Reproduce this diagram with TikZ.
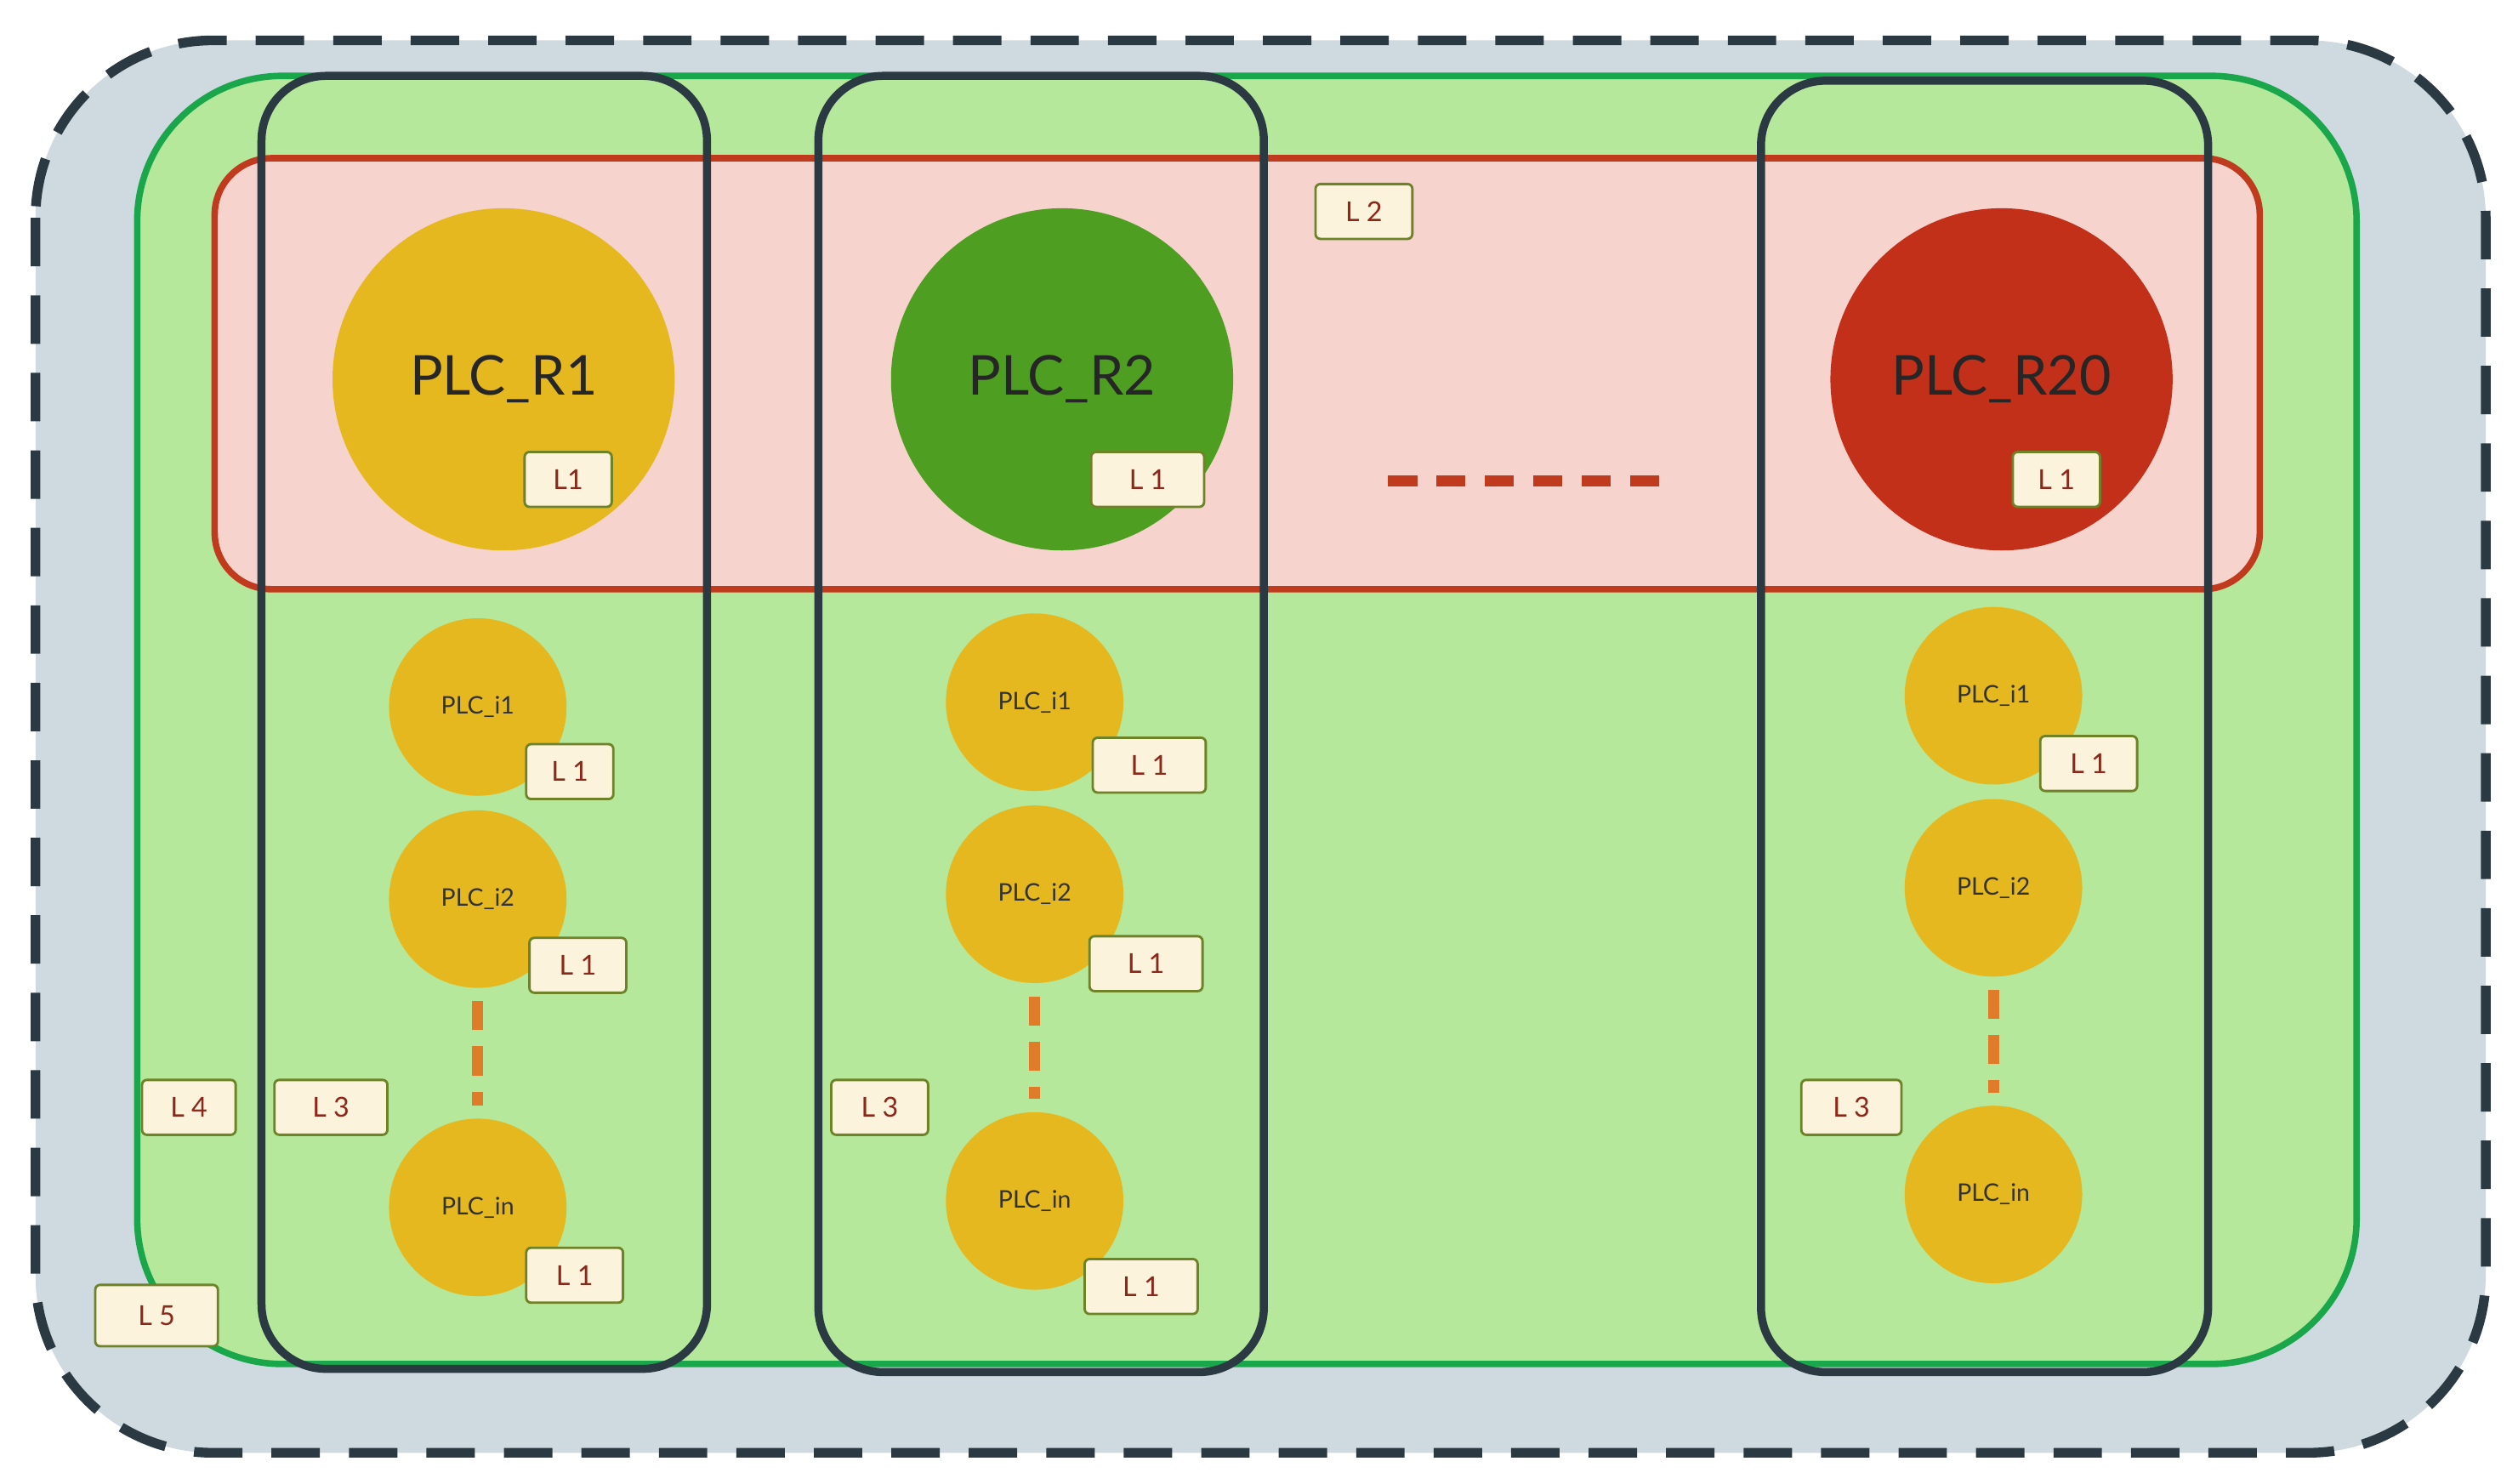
\documentclass[tikz,border=0pt]{standalone}
\usepackage{fontspec}
\setmainfont{Lato}
\definecolor{plcy}{HTML}{E6B820}
\definecolor{dark}{HTML}{2B3A42}
\definecolor{outerbg}{RGB}{207,217,224}
\definecolor{greenbg}{RGB}{181,232,154}
\definecolor{greenln}{RGB}{26,166,74}
\definecolor{redbg}{RGB}{247,211,206}
\definecolor{redln}{RGB}{192,58,30}
\definecolor{r2col}{RGB}{78,158,34}
\definecolor{r20col}{RGB}{195,48,26}
\definecolor{orng}{RGB}{224,123,42}
\definecolor{labfill}{RGB}{252,243,220}
\definecolor{labline}{RGB}{110,130,40}
\definecolor{labtext}{RGB}{140,40,25}
\begin{document}
\begin{tikzpicture}[x=1pt,y=-1pt,
  lab/.style={draw=labline,fill=labfill,line width=1.5pt,rounded corners=3pt,minimum width=54pt,minimum height=34pt,font=\fontsize{17}{17}\selectfont,text=labtext},
  big/.style={circle,minimum size=212pt,font=\fontsize{34}{34}\selectfont,text=black!85},
  small/.style={circle,minimum size=110pt,fill=plcy,font=\fontsize{15}{15}\selectfont,text=black!80},
  col/.style={draw=dark,line width=5pt,rounded corners=40pt},
  vd/.style={line width=7pt,draw=orng,dash pattern=on 18pt off 10pt,shorten <=8pt,shorten >=8pt}]
\useasboundingbox (0,0) rectangle (1560,919);
\fill[white] (0,0) rectangle (1560,919);
\draw[fill=outerbg,draw=dark,line width=6pt,dash pattern=on 30pt off 18pt,rounded corners=110pt] (22,25) rectangle (1540,900);
\draw[fill=greenbg,draw=greenln,line width=4pt,rounded corners=90pt] (85,47) rectangle (1460,845);
\draw[fill=redbg,draw=redln,line width=4pt,rounded corners=35pt] (133,98) rectangle (1400,365);
\node[big,fill=plcy] (r1) at (312,235) {PLC\_R1};
\node[big,fill=r2col] (r2) at (658,235) {PLC\_R2};
\node[big,fill=r20col] (r20) at (1240,235) {PLC\_R20};
\coordinate (d1) at (860,298); \coordinate (d2) at (1036,298);
\draw[line width=7pt,draw=redln,dash pattern=on 18pt off 12pt] (d1) -- (d2);
\node[small] (a1) at (296,438) {PLC\_i1};
\node[small] (a2) at (296,557) {PLC\_i2};
\node[small] (an) at (296,748) {PLC\_in};
\node[small] (b1) at (641,435) {PLC\_i1};
\node[small] (b2) at (641,554) {PLC\_i2};
\node[small] (bn) at (641,744) {PLC\_in};
\node[small] (c1) at (1235,431) {PLC\_i1};
\node[small] (c2) at (1235,550) {PLC\_i2};
\node[small] (cn) at (1235,740) {PLC\_in};
\draw[vd] (a2) -- (an);
\draw[vd] (b2) -- (bn);
\draw[vd] (c2) -- (cn);
\draw[col] (162,47) rectangle (438,848);
\draw[col] (507,47) rectangle (783,850);
\draw[col] (1091,50) rectangle (1368,850);
\node[lab] (l1a) at (352,297) {L1};
\node[lab,minimum width=70pt] (l1b) at (711,297) {L 1};
\node[lab] (l1c) at (1274,297) {L 1};
\node[lab,minimum width=60pt] (l2) at (845,131) {L 2};
\node[lab] (l1d) at (353,478) {L 1};
\node[lab,minimum width=60pt] (l1e) at (358,598) {L 1};
\node[lab,minimum width=60pt] (l1f) at (356,790) {L 1};
\node[lab,minimum width=70pt] (l1g) at (712,474) {L 1};
\node[lab,minimum width=70pt] (l1h) at (710,597) {L 1};
\node[lab,minimum width=70pt] (l1i) at (707,797) {L 1};
\node[lab,minimum width=60pt] (l1j) at (1294,473) {L 1};
\node[lab,minimum width=70pt] (l3a) at (205,686) {L 3};
\node[lab,minimum width=60pt] (l3b) at (545,686) {L 3};
\node[lab,minimum width=62pt] (l3c) at (1147,686) {L 3};
\node[lab,minimum width=58pt] (l4) at (117,686) {L 4};
\node[lab,minimum width=76pt,minimum height=38pt] (l5) at (97,815) {L 5};
\end{tikzpicture}
\end{document}
